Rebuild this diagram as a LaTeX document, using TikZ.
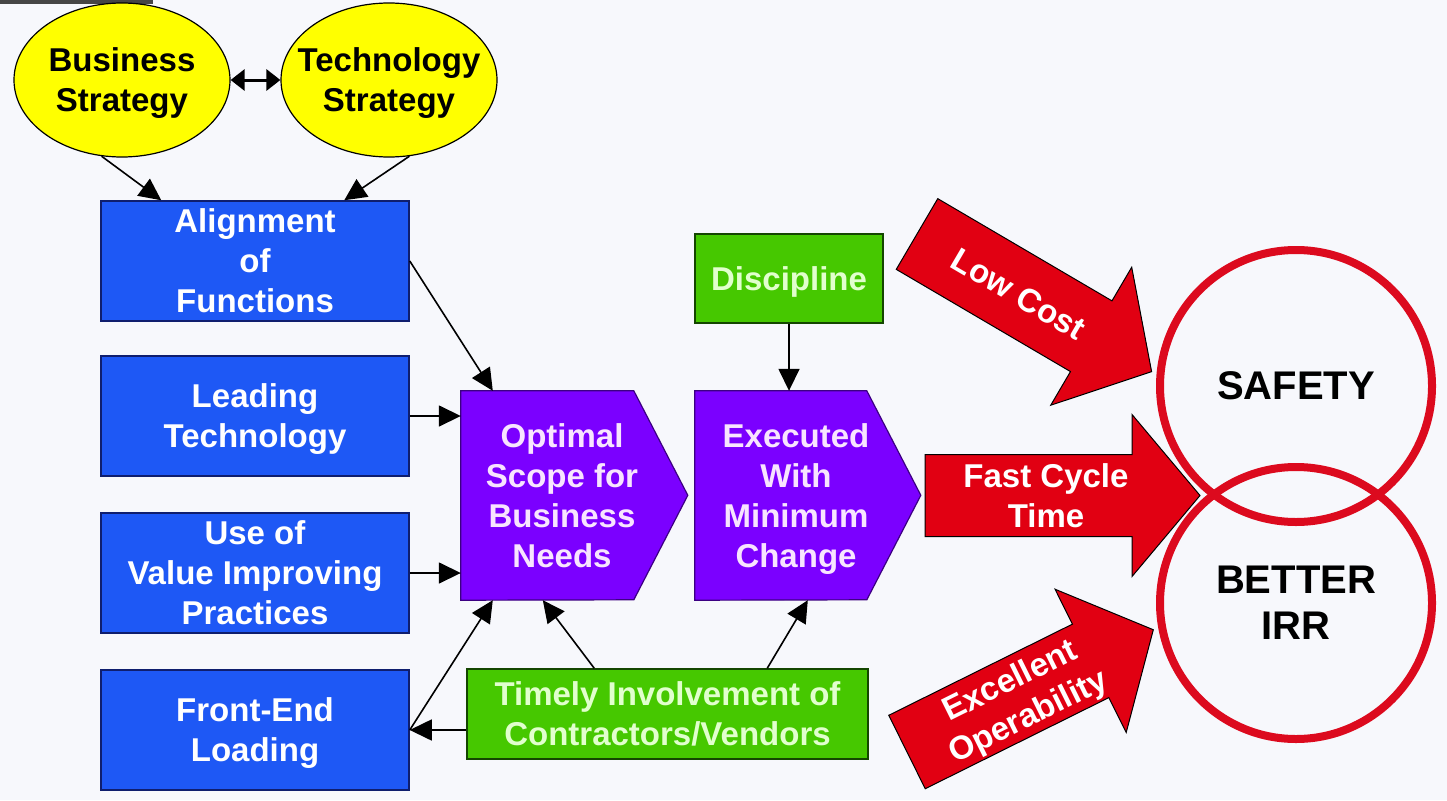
\documentclass[tikz,border=0pt]{standalone}
\usepackage{fontspec}
\setmainfont{Liberation Sans}
\usetikzlibrary{shapes.geometric,arrows.meta,calc}
\pgfdeclarelayer{bg}
\pgfsetlayers{bg,main}
\definecolor{bgc}{RGB}{247,248,252}
\definecolor{yel}{RGB}{255,255,0}
\definecolor{blu}{RGB}{30,88,245}
\definecolor{bluD}{RGB}{15,30,110}
\definecolor{pur}{RGB}{123,0,255}
\definecolor{purD}{RGB}{60,0,130}
\definecolor{purT}{RGB}{248,228,255}
\definecolor{grn}{RGB}{70,200,0}
\definecolor{grnD}{RGB}{20,70,0}
\definecolor{grnT}{RGB}{225,255,205}
\definecolor{rd}{RGB}{225,0,18}
\definecolor{rdC}{RGB}{220,10,30}
\begin{document}
\begin{tikzpicture}[x=1pt,y=-1pt,
  txt/.style={font=\fontsize{33}{40}\selectfont\bfseries, align=center, text depth=0pt},
  ell/.style={ellipse, draw=black, line width=1.2, fill=yel, minimum width=216, minimum height=154, inner sep=0},
  bluebox/.style={rectangle, draw=bluD, line width=1.5, fill=blu, text=white, minimum width=308, minimum height=120, inner sep=0, txt},
  ptext/.style={rectangle, minimum width=202, minimum height=209, inner sep=0, text=purT, txt},
  grnbox/.style={rectangle, draw=grnD, line width=1.5, fill=grn, text=grnT, inner sep=0, txt},
  conn/.style={line width=1.6, -{Triangle[length=22pt,width=21pt]}},
  redarrow/.style={fill=rd, draw=black, line width=1},
  rtext/.style={text=white, inner sep=0, txt},
  ring/.style={circle, draw=rdC, line width=8, minimum size=272, inner sep=0, font=\fontsize{40}{46}\selectfont\bfseries, align=center}
]
\useasboundingbox (0,0) rectangle (1447,800);

% ellipses
\node[ell, label={[txt, inner sep=0]center:{Business\\Strategy}}] (bs) at (122,80) {};
\node[ell, label={[txt, inner sep=0]center:{Technology\\Strategy}}] (ts) at (389,80) {};
\draw[line width=3, {Triangle[length=14pt,width=21pt]}-{Triangle[length=14pt,width=21pt]}] (bs) -- (ts);

% blue boxes
\node[bluebox] (align) at (255,261) {Alignment\\of\\Functions};
\node[bluebox] (lead) at (255,416) {Leading\\Technology};
\node[bluebox] (use) at (255,573) {Use of\\Value Improving\\Practices};
\node[bluebox] (fel) at (255,730) {Front-End\\Loading};

% purple
\node[ptext] (opt) at (562,495.5) {Optimal\\Scope for\\Business\\Needs};
\node[ptext] (exe) at (796,495.5) {Executed\\With\\Minimum\\Change};

% green
\node[grnbox, minimum width=188, minimum height=89] (disc) at (789,278.5) {Discipline};
\node[grnbox, minimum width=401, minimum height=90] (tim) at (667.5,714) {Timely Involvement of\\Contractors/Vendors};

\begin{pgfonlayer}{bg}
  \fill[bgc] (0,0) rectangle (1447,800);
  \fill[gray!55!black] (0,0) rectangle (153,4);
  \filldraw[fill=pur, draw=purD, line width=1.2] (opt.north west) -- ++(173,0) -- ++(54,104.5) -- ++(-54,104.5) -- (opt.south west) -- cycle;
  \filldraw[fill=pur, draw=purD, line width=1.2] (exe.north west) -- ++(172,0) -- ++(54,104.5) -- ++(-54,104.5) -- (exe.south west) -- cycle;
\end{pgfonlayer}

% connectors
\draw[conn] (bs.-105) -- ($(align.north west)+(61,0)$);
\draw[conn] (ts.-75) -- ($(align.north west)+(244,0)$);
\draw[conn] (align.east) -- ($(opt.north west)+(32,0)$);
\draw[conn] (lead.east) -- (lead.east -| opt.west);
\draw[conn] (use.east) -- (use.east -| opt.west);
\draw[conn] (disc.south) -- (disc.south |- exe.north);
\draw[conn] (tim.west |- fel.east) -- (fel.east);
\draw[conn] (fel.east) -- ($(opt.south west)+(32,0)$);
\draw[conn] ($(tim.north west)+(128,0)$) -- ($(opt.south west)+(82,0)$);
\draw[conn] ($(tim.north west)+(301,0)$) -- ($(exe.south west)+(113,0)$);

% red arrows
\begin{scope}[shift={(917,234)}, rotate=-30.4]
  \draw[redarrow] (0,-41) -- (202,-41) -- (202,-80) -- (272,0) -- (202,80) -- (202,41) -- (0,41) -- cycle;
  \node[rtext, rotate=-30.4] (lowcost) at (118,0) {Low Cost};
\end{scope}
\begin{scope}[shift={(925,495.5)}]
  \draw[redarrow] (0,-41) -- (207,-41) -- (207,-81) -- (275,0) -- (207,81) -- (207,41) -- (0,41) -- cycle;
  \node[rtext] (fast) at (121,0) {Fast Cycle\\Time};
\end{scope}
\begin{scope}[shift={(907,752)}, rotate=26.4]
  \draw[redarrow] (0,-41) -- (205,-41) -- (205,-80) -- (275,0) -- (205,80) -- (205,41) -- (0,41) -- cycle;
  \node[rtext, rotate=26.4] (excel) at (124,0) {Excellent\\Operability};
\end{scope}

% rings
\node[ring] (safety) at (1296,386) {SAFETY};
\node[ring] (irr) at (1296,603) {BETTER\\IRR};
\end{tikzpicture}
\end{document}
